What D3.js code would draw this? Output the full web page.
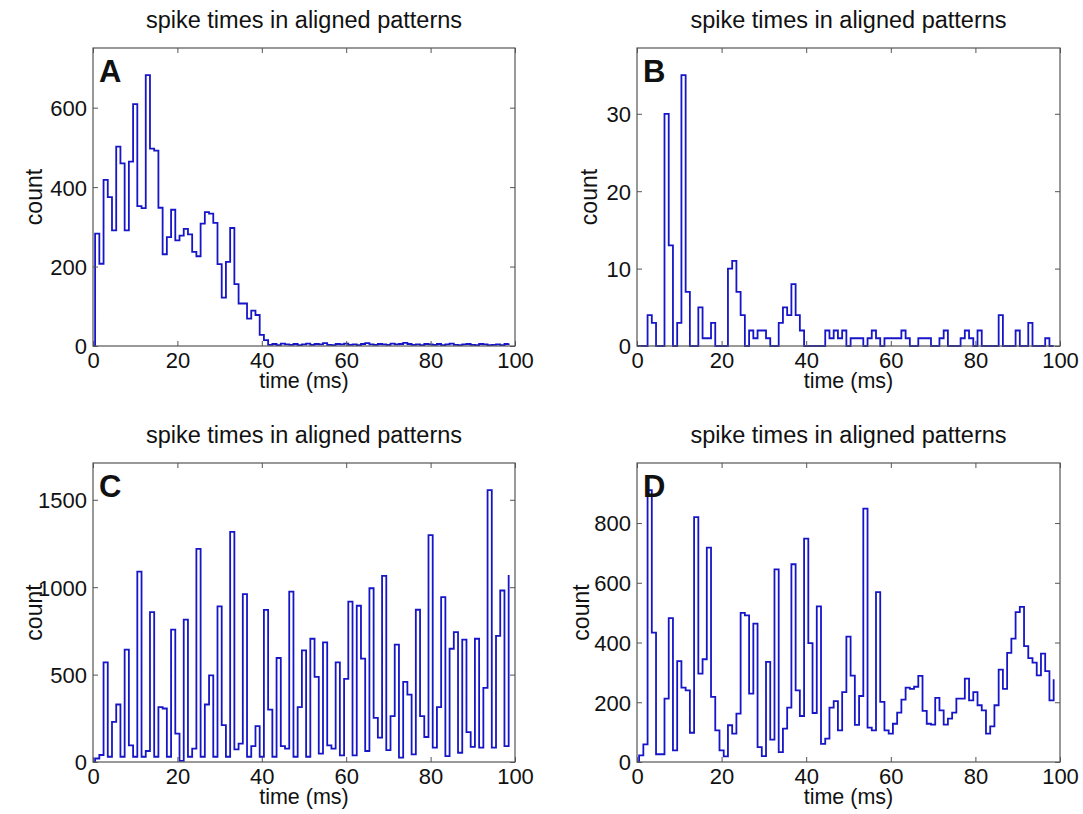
<!DOCTYPE html>
<html>
<head>
<meta charset="utf-8">
<script src="https://cdn.jsdelivr.net/npm/d3@7"></script>
<style>
  html, body { margin: 0; padding: 0; background: #ffffff; }
  svg { display: block; }
  text { font-family: "Liberation Sans", Arial, Helvetica, sans-serif; fill: #111; }
</style>
</head>
<body>
<script>
// ---------------- DATA ----------------
const panelLetters = ["A", "B", "C", "D"];
const titleText = "spike times in aligned patterns";
const xLabelText = "time (ms)";
const yLabelText = "count";
const xTicks = [0, 20, 40, 60, 80, 100];
const yTicksA = [0, 200, 400, 600];
const yTicksB = [0, 10, 20, 30];
const yTicksC = [0, 500, 1000, 1500];
const yTicksD = [0, 200, 400, 600, 800];

// counts per 1 ms bin, bin centres 0..99 ms
const countsA = [
  0, 283, 207, 418, 375, 291, 502, 460, 291, 464,
  609, 352, 347, 682, 497, 492, 348, 231, 274, 343,
  266, 278, 295, 281, 237, 226, 308, 337, 333, 310,
  206, 122, 212, 297, 156, 107, 107, 69, 89, 78,
  28, 15, 3, 5, 2, 6, 4, 3, 5, 2,
  4, 6, 3, 5, 4, 7, 3, 2, 5, 4,
  6, 3, 4, 2, 5, 7, 4, 3, 5, 4,
  3, 6, 4, 5, 8, 5, 3, 4, 2, 5,
  4, 3, 5, 2, 4, 6, 3, 2, 4, 5,
  3, 2, 5, 4, 2, 3, 4, 2, 5, 6
];
const countsB = [
  0, 0, 0, 4, 3, 0, 0, 30, 13, 0,
  3, 35, 7, 0, 0, 5, 1, 1, 3, 0,
  0, 0, 10, 11, 7, 4, 0, 2, 1, 2,
  2, 1, 0, 0, 3, 5, 4, 8, 4, 2,
  0, 0, 0, 0, 0, 2, 1, 2, 1, 2,
  0, 1, 1, 1, 0, 1, 2, 1, 0, 1,
  1, 1, 1, 2, 1, 0, 0, 1, 1, 1,
  0, 0, 1, 2, 0, 0, 0, 1, 2, 1,
  0, 2, 0, 0, 0, 0, 4, 0, 0, 0,
  2, 0, 0, 3, 0, 0, 0, 1, 0, 0
];
const countsC = [
  0, 20, 40, 570, 30, 230, 329, 30, 643, 95,
  30, 1089, 30, 63, 857, 30, 314, 306, 30, 757,
  162, 6, 814, 30, 76, 1219, 30, 329, 496, 30,
  890, 211, 30, 1317, 72, 105, 960, 30, 91, 205,
  30, 870, 300, 30, 595, 91, 76, 975, 30, 314,
  639, 30, 705, 487, 48, 684, 95, 76, 570, 38,
  475, 918, 38, 894, 591, 63, 994, 253, 139, 1065,
  68, 262, 671, 25, 458, 386, 44, 871, 262, 143,
  1298, 82, 314, 943, 34, 648, 743, 53, 700, 171,
  86, 705, 82, 424, 1555, 82, 722, 981, 91, 1070
];
const countsD = [
  0, 22, 59, 910, 433, 26, 26, 212, 482, 39,
  338, 249, 240, 98, 820, 296, 344, 718, 218, 106,
  39, 19, 123, 95, 162, 499, 491, 229, 463, 50,
  20, 335, 75, 645, 33, 112, 182, 662, 240, 154,
  748, 398, 164, 521, 61, 78, 182, 204, 106, 234,
  420, 289, 124, 221, 848, 115, 106, 569, 201, 106,
  95, 128, 165, 209, 249, 245, 252, 288, 171, 128,
  125, 215, 173, 125, 145, 165, 212, 212, 279, 206,
  234, 190, 173, 95, 119, 190, 309, 245, 365, 413,
  502, 519, 388, 348, 333, 290, 363, 304, 206, 277
];

// ---------------- LAYOUT ----------------
const W = 1083, H = 814;
const cols = [{ l: 93, r: 515 }, { l: 637, r: 1060 }];
const rows = [{ t: 48, b: 346 }, { t: 463, b: 762 }];
const panels = [
  { letter: panelLetters[0], counts: countsA, yTicks: yTicksA, col: cols[0], row: rows[0], ylOff: 51 },
  { letter: panelLetters[1], counts: countsB, yTicks: yTicksB, col: cols[1], row: rows[0], ylOff: 40 },
  { letter: panelLetters[2], counts: countsC, yTicks: yTicksC, col: cols[0], row: rows[1], ylOff: 51 },
  { letter: panelLetters[3], counts: countsD, yTicks: yTicksD, col: cols[1], row: rows[1], ylOff: 48 }
];

const lineColor = "#1616c8";
const frameColor = "#555";
const tickFs = 22;

const svg = d3.select("body").append("svg")
  .attr("width", W).attr("height", H)
  .attr("viewBox", `0 0 ${W} ${H}`);

panels.forEach((p, i) => {
  const L = p.col.l, R = p.col.r, T = p.row.t, B = p.row.b;
  const x = d3.scaleLinear().domain([0, 100]).range([L, R]);
  const ymax = d3.max(p.counts) * 1.1;
  const y = d3.scaleLinear().domain([0, ymax]).range([B, T]);

  const g = svg.append("g");

  // clip
  const clipId = "clip" + i;
  svg.append("defs").append("clipPath").attr("id", clipId)
    .append("rect").attr("x", L).attr("y", T - 2).attr("width", R - L).attr("height", B - T + 4);

  // stairs line
  const pts = p.counts.map((v, k) => ({ t: k - 0.5, v: v }));
  const line = d3.line().x(d => x(d.t)).y(d => y(d.v)).curve(d3.curveStepAfter);
  g.append("path")
    .attr("d", line(pts))
    .attr("clip-path", `url(#${clipId})`)
    .attr("fill", "none")
    .attr("stroke", lineColor)
    .attr("stroke-width", 1.8)
    .attr("stroke-linejoin", "miter");

  // axes (ticks inward)
  const axB = g.append("g").attr("transform", `translate(0,${B})`)
    .call(d3.axisBottom(x).tickValues(xTicks).tickSize(-5).tickPadding(6).tickFormat(d3.format("d")));
  const axT = g.append("g").attr("transform", `translate(0,${T})`)
    .call(d3.axisTop(x).tickValues(xTicks).tickSize(-5).tickFormat(""));
  const axL = g.append("g").attr("transform", `translate(${L},0)`)
    .call(d3.axisLeft(y).tickValues(p.yTicks).tickSize(-5).tickPadding(6).tickFormat(d3.format("d")));
  const axR = g.append("g").attr("transform", `translate(${R},0)`)
    .call(d3.axisRight(y).tickValues(p.yTicks).tickSize(-5).tickFormat(""));
  [axB, axT, axL, axR].forEach(a => {
    a.select(".domain").remove();
    a.selectAll(".tick line").attr("stroke", frameColor).attr("stroke-width", 1);
    a.selectAll(".tick text")
      .attr("font-family", "'Liberation Sans', Arial, sans-serif")
      .attr("font-size", tickFs).attr("fill", "#111");
  });
  axB.selectAll(".tick text").attr("dy", "0.72em");
  axL.selectAll(".tick text").attr("dy", "0.36em");

  // frame
  g.append("rect")
    .attr("x", L).attr("y", T).attr("width", R - L).attr("height", B - T)
    .attr("fill", "none").attr("stroke", frameColor).attr("stroke-width", 1.2);

  // title
  g.append("text")
    .attr("x", (L + R) / 2).attr("y", T - 20)
    .attr("text-anchor", "middle").attr("font-size", 23.5)
    .text(titleText);

  // x label
  g.append("text")
    .attr("x", (L + R) / 2).attr("y", B + 42)
    .attr("text-anchor", "middle").attr("font-size", 21.5)
    .text(xLabelText);

  // y label
  g.append("text")
    .attr("transform", `translate(${L - p.ylOff},${(T + B) / 2}) rotate(-90)`)
    .attr("text-anchor", "middle").attr("font-size", 23)
    .text(yLabelText);

  // panel letter
  g.append("text")
    .attr("x", L + 6).attr("y", T + 34)
    .attr("font-size", 31).attr("font-weight", "bold")
    .text(p.letter);
});
</script>
</body>
</html>
